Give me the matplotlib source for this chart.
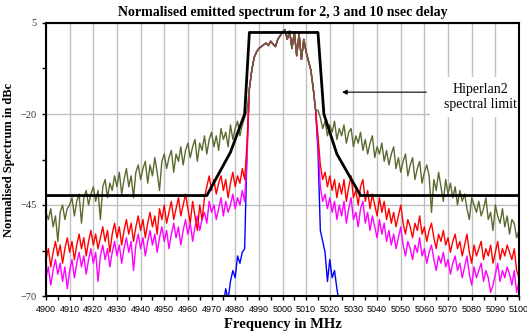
import numpy as np
import matplotlib
matplotlib.use("Agg")
import matplotlib.pyplot as plt
from matplotlib.patches import Rectangle
from matplotlib.ticker import MultipleLocator

# shared in-band part of the spectrum, 4986..5014 MHz
passband = [-13, -8, -4.5, -3, -2, -1.5, -1, -0.5, -1.2, 0, -0.8, -1.5, 0.5, 1.5, 2.5,
            3.2, 0.5, 2.8, -2, 2.5, -4, 2.0, -5, 0.5, -3, -5.5, -8, -13, -19]

# left skirts, 4900..4985 MHz
olive_left = [-47, -49, -46, -51, -48, -55, -47, -45, -49, -46,
              -45, -43, -48, -44, -42, -50, -43, -41, -45, -42,
              -40, -44, -41, -49, -40, -38, -43, -39, -41, -37,
              -40, -36, -42, -38, -35, -40, -37, -43, -36, -34,
              -38, -35, -33, -39, -34, -37, -32, -36, -41, -33,
              -31, -35, -32, -30, -36, -31, -33, -29, -34, -30,
              -28, -32, -29, -27, -33, -28, -30, -26, -31, -27,
              -25, -29, -26, -30, -24, -27, -25, -29, -23, -27,
              -24, -22, -26, -23, -21, -19]
red_left = [-60, -57, -62, -58, -55, -59, -56, -61, -57, -54,
            -58, -55, -60, -56, -53, -57, -54, -59, -55, -52,
            -56, -53, -57, -54, -51, -55, -52, -58, -53, -50,
            -54, -51, -56, -52, -49, -53, -50, -55, -51, -48,
            -52, -49, -54, -50, -47, -51, -48, -53, -46, -49,
            -45, -50, -47, -44, -49, -46, -43, -48, -45, -42,
            -46, -50, -44, -48, -52, -45, -49, -43, -40, -37,
            -41, -38, -42, -39, -37, -41, -38, -43, -39, -36,
            -40, -37, -39, -35, -38, -28]
magenta_left = [-65, -62, -67, -63, -60, -64, -61, -66, -62, -68,
                -63, -60, -65, -61, -58, -62, -59, -64, -60, -57,
                -61, -58, -66, -59, -56, -60, -57, -62, -58, -55,
                -59, -56, -61, -57, -54, -58, -55, -63, -56, -53,
                -57, -54, -59, -55, -52, -56, -53, -58, -54, -51,
                -55, -52, -57, -53, -50, -54, -51, -56, -52, -49,
                -53, -50, -55, -51, -48, -52, -49, -47, -50, -44,
                -47, -45, -49, -46, -43, -48, -44, -47, -45, -42,
                -46, -43, -45, -41, -44, -32]

# right skirts, 5015..5100 MHz
olive_right = [-19, -21, -24, -22, -26, -23, -25, -22, -27, -24,
               -26, -23, -28, -25, -24, -29, -26, -28, -25, -30,
               -27, -31, -28, -26, -32, -29, -31, -28, -33, -30,
               -34, -31, -29, -35, -32, -36, -33, -31, -37, -34,
               -32, -38, -35, -33, -39, -36, -34, -37, -47, -38,
               -41, -36, -40, -44, -38, -42, -39, -43, -40, -45,
               -41, -44, -42, -46, -49, -43, -45, -47, -44, -48,
               -46, -43, -49, -47, -52, -45, -48, -50, -46, -51,
               -48, -53, -49, -50, -54, -52]
red_right = [-26, -34, -38, -36, -40, -37, -41, -38, -43, -39,
             -42, -38, -44, -40, -37, -43, -41, -45, -40, -38,
             -44, -41, -46, -42, -45, -48, -43, -47, -44, -49,
             -46, -50, -47, -51, -48, -45, -50, -53, -49, -51,
             -54, -50, -52, -48, -53, -51, -55, -52, -50, -54,
             -57, -53, -55, -52, -56, -54, -58, -55, -53, -57,
             -55, -59, -56, -53, -58, -61, -56, -59, -57, -55,
             -60, -57, -59, -56, -61, -58, -55, -60, -57, -59,
             -56, -58, -60, -57, -63, -65]
magenta_right = [-28, -40, -44, -42, -46, -43, -47, -44, -49, -45,
                 -48, -44, -50, -46, -43, -49, -47, -51, -46, -44,
                 -50, -47, -52, -48, -51, -54, -49, -53, -50, -55,
                 -52, -56, -53, -57, -54, -51, -56, -59, -55, -57,
                 -60, -56, -58, -54, -59, -57, -61, -58, -56, -60,
                 -63, -59, -61, -58, -62, -60, -64, -61, -59, -63,
                 -61, -65, -62, -59, -64, -67, -62, -65, -63, -61,
                 -66, -63, -65, -69, -67, -64, -61, -66, -63, -65,
                 -62, -64, -67, -63, -69, -66]

# reference (blue) trace only around the band: 4975..4985 and 5015..5024
blue_left = [-72, -68, -71, -66, -63, -65, -59, -61, -58, -57, -30]
blue_right = [-30, -52, -55, -58, -66, -60, -65, -63, -68, -72]

# Hiperlan2 spectral mask
mask_f = [4900, 4968, 4978, 4984, 4986, 5015, 5017.5, 5023, 5033, 5100]
mask_db = [-42.4, -42.4, -30.5, -20, 2.4, 2.4, -20, -31, -42.4, -42.4]

f_full = np.arange(4900, 5101)
f_blue = np.arange(4975, 5025)

olive = olive_left + passband + olive_right
red = red_left + passband + red_right
magenta = magenta_left + passband + magenta_right
blue = blue_left + passband + blue_right

fig = plt.figure(figsize=(5.27, 3.32), dpi=100)
ax = fig.add_axes([46/527, 36/332, 473/527, 273/332])

ax.plot(f_blue, blue, color='#0000ff', lw=1, zorder=2)
ax.plot(f_full, magenta, color='#ff00ff', lw=1, zorder=2)
ax.plot(f_full, red, color='#ff0000', lw=1, zorder=2)
ax.plot(f_full, olive, color='#5b6b2f', lw=1, zorder=2)
ax.plot(mask_f, mask_db, color='black', lw=2, zorder=3)

ax.set_xlim(4900, 5100)
ax.set_ylim(-70, 5)
ax.xaxis.set_major_locator(MultipleLocator(10))
ax.xaxis.set_minor_locator(MultipleLocator(5))
ax.set_yticks([5, -20, -45, -70])
ax.set_yticks([-7.5, -32.5, -57.5], minor=True)
ax.grid(True, which='major', color='#c0c0c0', lw=1)
ax.set_axisbelow(True)
ax.tick_params(which='both', direction='out', length=3, width=1)
for lab in ax.get_xticklabels():
    lab.set_fontsize(6.5)
    lab.set_family('Liberation Sans')
for lab in ax.get_yticklabels():
    lab.set_fontsize(7.5)
    lab.set_family('Liberation Serif')
    lab.set_color('#333333')
for s in ax.spines.values():
    s.set_linewidth(1.5)

# white box behind the annotation
ax.add_patch(Rectangle((5062.4, -20.8), 40, 11, facecolor='white', edgecolor='none', zorder=1))
ax.annotate('', xy=(5024, -14), xytext=(5062, -14),
            arrowprops=dict(arrowstyle='-|>', color='black', lw=0.8, mutation_scale=7))
ax.text(5083.5, -15.2, 'Hiperlan2\nspectral limit', ha='center', va='center',
        fontsize=10, family='Liberation Serif', linespacing=1.2)

ax.set_title('Normalised emitted spectrum for 2, 3 and 10 nsec delay',
             fontsize=10, family='Liberation Serif', fontweight='bold', pad=5)
ax.set_xlabel('Frequency in MHz', fontsize=10.5, family='Liberation Serif', fontweight='bold', labelpad=3)
ax.set_ylabel('Normalised Spectrum in dBc', fontsize=9, family='Liberation Serif', fontweight='bold', labelpad=4)

plt.savefig('out.png', dpi=100)
